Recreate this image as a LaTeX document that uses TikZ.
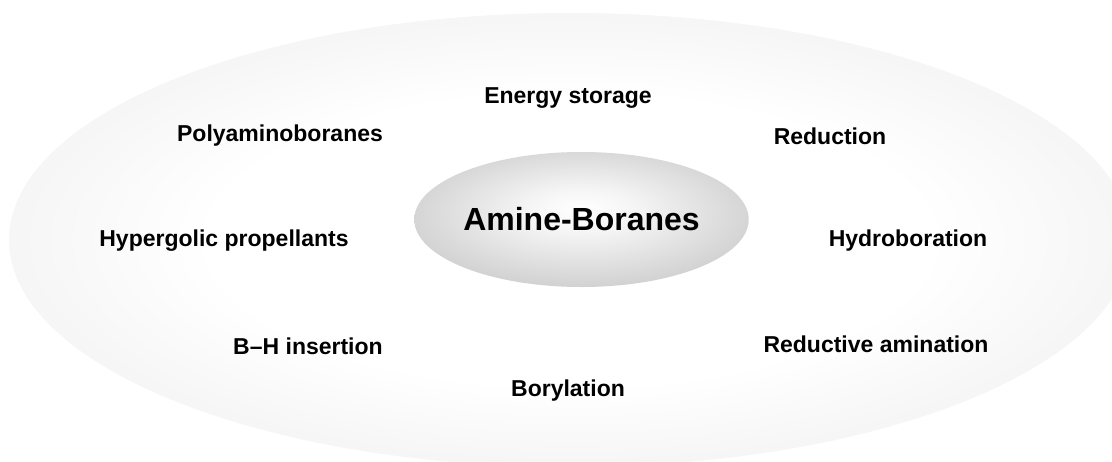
\documentclass[tikz,border=0pt]{standalone}
\usepackage{fontspec}
\setmainfont{Liberation Sans}
\usetikzlibrary{shapes.geometric,positioning}
\definecolor{rimgray}{HTML}{EBEBEB}
\definecolor{hubgray}{HTML}{C2C2C2}
\pgfdeclareradialshading{fieldshade}{\pgfpoint{0bp}{0bp}}{color(0bp)=(white); color(16bp)=(white); color(35bp)=(rimgray); color(50bp)=(rimgray)}
\pgfdeclareradialshading{hubshade}{\pgfpoint{0bp}{4bp}}{color(0bp)=(white); color(8bp)=(white!96!black); color(35bp)=(hubgray); color(50bp)=(hubgray)}
\tikzset{
  field/.style={ellipse,shade,shading=fieldshade,inner sep=0pt,
    minimum width=561pt,minimum height=227pt},
  hub/.style={ellipse,shade,shading=hubshade,inner sep=0pt,
    minimum width=165.5pt,minimum height=67.5pt,
    font=\bfseries\fontsize{16}{18}\selectfont},
  topic/.style={font=\bfseries\fontsize{11.5}{13}\selectfont,inner sep=1pt},
}
\begin{document}
\begin{tikzpicture}[x=0.5pt,y=-0.5pt]
  \useasboundingbox (0,0) rectangle (1112,461);
  \clip (0,0) rectangle (1112,461);
  \node[field] (field) at (570,240) {};
  \node[hub] (hub) at (581.5,219.5) {Amine-Boranes};
  % applications round the hub
  \node[topic] (energy) at (568,98) {Energy storage};
  \node[topic] (poly) at (280,136) {Polyaminoboranes};
  \node[topic] (reduc) at (830,136) {Reduction};
  \node[topic] (hyper) at (224,241) {Hypergolic propellants};
  \node[topic] (hydro) at (908,241) {Hydroboration};
  \node[topic] (bhins) at (308,346) {B--H insertion};
  \node[topic] (redam) at (876,344) {Reductive amination};
  \node[topic] (boryl) at (568,391) {Borylation};
\end{tikzpicture}
\end{document}
